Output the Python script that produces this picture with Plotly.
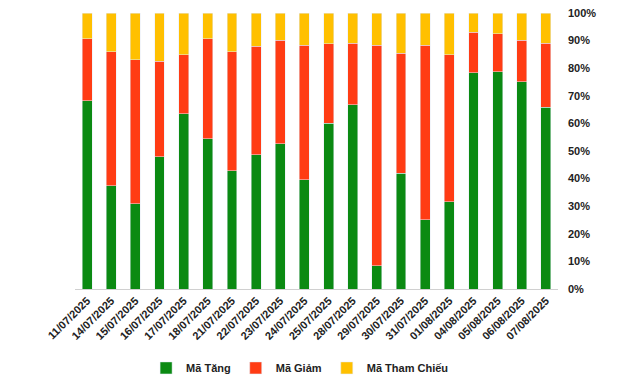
import plotly.graph_objects as go

dates = ["11/07/2025", "14/07/2025", "15/07/2025", "16/07/2025", "17/07/2025",
         "18/07/2025", "21/07/2025", "22/07/2025", "23/07/2025", "24/07/2025",
         "25/07/2025", "28/07/2025", "29/07/2025", "30/07/2025", "31/07/2025",
         "01/08/2025", "04/08/2025", "05/08/2025", "06/08/2025", "07/08/2025"]

ma_tang = [68.2, 37.4, 30.9, 47.9, 63.5, 54.5, 42.8, 48.6, 52.7, 39.6,
           60.1, 66.7, 8.5, 42.0, 25.1, 31.6, 78.3, 78.7, 75.1, 65.9]
ma_giam = [22.4, 48.5, 52.1, 34.7, 21.3, 36.1, 43.1, 39.4, 37.5, 48.8,
           28.7, 22.4, 79.9, 43.5, 63.3, 53.2, 14.8, 13.7, 15.1, 23.2]
ma_tham_chieu = [9.4, 14.1, 17.0, 17.4, 15.2, 9.4, 14.1, 12.0, 9.8, 11.6,
                 11.2, 10.9, 11.6, 14.5, 11.6, 15.2, 6.9, 7.6, 9.8, 10.9]

font_family = "Liberation Sans, Arial, sans-serif"

fig = go.Figure()
fig.add_trace(go.Bar(x=dates, y=ma_tang, name="Mã Tăng", marker_color="#0B8A12"))
fig.add_trace(go.Bar(x=dates, y=ma_giam, name="Mã Giảm", marker_color="#FF3C14"))
fig.add_trace(go.Bar(x=dates, y=ma_tham_chieu, name="Mã Tham Chiếu", marker_color="#FFC000"))

fig.update_layout(
    barmode="stack",
    bargap=0.59,
    width=640, height=378,
    margin=dict(l=75, r=82, t=13, b=89, autoexpand=False),
    plot_bgcolor="white", paper_bgcolor="white",
    font=dict(family=font_family, size=11, color="#222222", weight="bold"),
    showlegend=True,
    legend=dict(orientation="h", x=0.465, xanchor="center", y=-0.286, yanchor="middle",
                font=dict(size=11, weight="bold"), traceorder="normal",
                itemwidth=30),
    xaxis=dict(type="category", tickangle=-45, showline=True, linecolor="#D0D0D0",
               linewidth=1, ticks="", showgrid=False, automargin=False,
               tickfont=dict(size=11, weight="bold")),
    yaxis=dict(side="right", range=[0, 100], tickvals=list(range(0, 101, 10)),
               ticktext=[f"{v}%" for v in range(0, 101, 10)], showgrid=False,
               zeroline=False, showline=False, ticks="", automargin=False,
               ticklabelstandoff=9,
               tickfont=dict(size=11, weight="bold")),
)

fig.write_html(
    "out.html",
    config={"displayModeBar": False},
    post_script="document.body.style.margin='0';document.body.style.overflow='hidden';",
)
